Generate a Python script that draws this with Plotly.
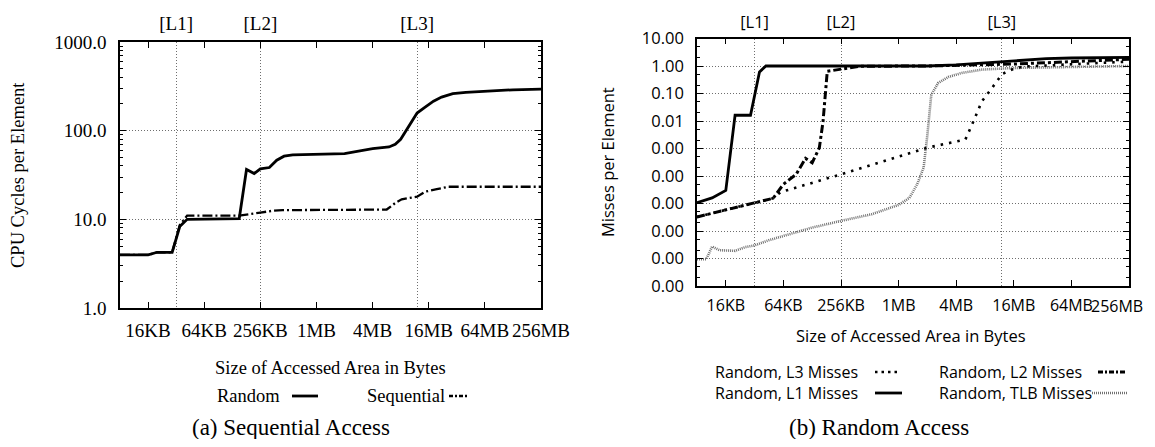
import math
import plotly.graph_objects as go

# the page places the figure 8px from the top-left corner of the window;
# keep the figure small enough that the page never overflows the window
OFF = 8
W, H = 1155 - 2 * OFF, 447 - 2 * OFF

# ---------------- data (sizes in KB) ----------------
size_ticks_kb = [16, 64, 256, 1024, 4096, 16384, 65536, 262144]
size_tick_labels = ["16KB", "64KB", "256KB", "1MB", "4MB", "16MB", "64MB", "256MB"]
cache_kb = [32, 256, 12288]
cache_labels = ["[L1]", "[L2]", "[L3]"]

cyc_ticks = [1, 10, 100, 1000]
cyc_tick_labels = ["1.0", "10.0", "100.0", "1000.0"]
miss_ticks = [1e-8, 1e-7, 1e-6, 1e-5, 1e-4, 1e-3, 1e-2, 1e-1, 1, 10]

rand_x = [8, 16, 20, 29, 35, 42, 152, 182, 220, 256, 320, 384, 460, 570, 2048, 4096,
          6144, 7168, 8192, 10240, 12288, 15000, 18432, 22528, 29696, 40960, 65536,
          131072, 262144]
rand_y = [3.97, 3.97, 4.25, 4.25, 8.3, 10.0, 10.2, 36.5, 32.9, 37.1, 38.4, 46.4, 51.5,
          53.3, 55.2, 62.8, 65.5, 70.2, 80, 115, 158, 184, 215, 239, 261, 270, 279,
          289, 294]

seq_x = [8, 16, 20, 29, 35, 42, 152, 195, 256, 348, 444, 2048, 5800, 7300, 8400, 12288,
         15000, 20000, 26600, 262144]
seq_y = [3.97, 3.97, 4.25, 4.25, 8.6, 11.0, 11.0, 11.5, 11.9, 12.5, 12.7, 12.8, 12.9,
         15.5, 16.8, 18.0, 20.5, 21.9, 23.3, 23.3]

l1_x = [8, 11.5, 16, 20, 29, 36, 42, 2048, 4096, 7800, 12900, 35800, 65536, 262144]
l1_y = [1.07e-5, 1.6e-5, 3.0e-5, 0.0162, 0.0162, 0.606, 1.0, 1.0, 1.09, 1.28, 1.48,
        1.85, 1.95, 2.06]

l2_x = [8, 16, 32, 50, 64, 87, 109, 128, 152, 166, 184, 256, 400, 2048, 16384, 262144]
l2_y = [3.24e-6, 5.8e-6, 1.02e-5, 1.55e-5, 5.0e-5, 1.15e-4, 4.36e-4, 3.02e-4, 1.07e-3,
        9.3e-3, 0.64, 0.757, 0.98, 1.0, 1.18, 1.75]

l3_x = [8, 16, 32, 50, 60, 256, 2048, 5100, 6000, 7600, 9700, 12400, 17000, 23000, 262144]
l3_y = [3.24e-6, 5.8e-6, 1.02e-5, 1.55e-5, 2.6e-5, 1.15e-4, 1.07e-3, 2.1e-3, 7.4e-3,
        0.052, 0.16, 0.51, 0.85, 0.97, 1.45]

tlb_x = [8, 10, 11.5, 13.8, 20, 25.6, 32, 45, 64, 128, 256, 540, 1024, 1330, 1600, 1870,
         2048, 2250, 2650, 3400, 4700, 7600, 16384, 262144]
tlb_y = [9.4e-8, 9.4e-8, 2.7e-7, 2.0e-7, 1.9e-7, 2.6e-7, 3.0e-7, 4.6e-7, 6.6e-7, 1.33e-6,
         2.33e-6, 4.1e-6, 8.9e-6, 1.6e-5, 5.0e-5, 2.0e-4, 3.2e-3, 0.091, 0.24, 0.40,
         0.56, 0.74, 0.85, 1.0]

# ---------------- helpers (window pixels -> paper fractions) ----------------
def px(x):
    return (x - OFF) / W

def py(y):
    return 1 - (y - OFF) / H

def kb(v):
    return [a * 1024 for a in v]

XR = [math.log10(8 * 1024), math.log10(262144 * 1024)]

SERIF = "Liberation Serif"
SANS = "Open Sans"
GRIDC = "#6e6e6e"

# right panel: last label is drawn right-aligned to the page edge (as in the reference)
right_tick_text = size_tick_labels[:-1] + [""]

fig = go.Figure()

# left panel traces
fig.add_trace(go.Scatter(x=kb(seq_x), y=seq_y, mode="lines", xaxis="x", yaxis="y",
                         line=dict(color="black", width=2.3, dash="10px,3px,2px,3px"),
                         showlegend=False))
fig.add_trace(go.Scatter(x=kb(rand_x), y=rand_y, mode="lines", xaxis="x", yaxis="y",
                         line=dict(color="black", width=2.8), showlegend=False))
# carrier traces so the cache-level axes (top) are drawn
fig.add_trace(go.Scatter(x=kb(cache_kb), y=[None] * len(cache_kb), mode="lines",
                         xaxis="x2", yaxis="y", showlegend=False, hoverinfo="skip"))
fig.add_trace(go.Scatter(x=kb(cache_kb), y=[None] * len(cache_kb), mode="lines",
                         xaxis="x4", yaxis="y3", showlegend=False, hoverinfo="skip"))

# right panel traces
fig.add_trace(go.Scatter(x=kb(tlb_x), y=tlb_y, mode="lines", xaxis="x3", yaxis="y3",
                         line=dict(color="#707070", width=2.6, dash="1px,1px"),
                         showlegend=False))
fig.add_trace(go.Scatter(x=kb(l3_x), y=l3_y, mode="lines", xaxis="x3", yaxis="y3",
                         line=dict(color="black", width=2.6, dash="2.5px,6px"),
                         showlegend=False))
fig.add_trace(go.Scatter(x=kb(l2_x), y=l2_y, mode="lines", xaxis="x3", yaxis="y3",
                         line=dict(color="black", width=3, dash="8px,3px,3px,3px"),
                         showlegend=False))
fig.add_trace(go.Scatter(x=kb(l1_x), y=l1_y, mode="lines", xaxis="x3", yaxis="y3",
                         line=dict(color="black", width=2.8), showlegend=False))

def minor_vals(lo, hi, mults):
    out = []
    for e in range(lo, hi):
        for m in mults:
            out.append(m * 10 ** e)
    return out

common_x = dict(type="log", range=XR, ticks="inside", ticklen=6, tickwidth=1,
                tickcolor="black", showline=True, linecolor="black", linewidth=1.5,
                mirror="ticks", showgrid=False, zeroline=False, tickangle=0,
                automargin=False, ticklabeloverflow="allow")

L1 = [120, 541, 42, 308]     # left, right, top, bottom (window px)
R1 = [697, 1129, 38.5, 286]

fig.update_layout(
    width=W, height=H,
    margin=dict(l=0, r=0, t=0, b=0, pad=0),
    paper_bgcolor="white", plot_bgcolor="white",
    xaxis=dict(**common_x, domain=[px(L1[0]), px(L1[1])], anchor="y",
               tickvals=kb(size_ticks_kb), ticktext=size_tick_labels,
               tickfont=dict(family=SERIF, size=19, color="black"),
               ticklabelstandoff=4),
    xaxis2=dict(type="log", range=XR, overlaying="x", side="top", anchor="y",
                tickvals=kb(cache_kb), ticktext=cache_labels, ticks="",
                showline=False, showgrid=True, gridcolor=GRIDC, gridwidth=1,
                griddash="1px,2px", zeroline=False, tickangle=0, automargin=False,
                tickfont=dict(family=SERIF, size=19, color="black"),
                ticklabelstandoff=7),
    yaxis=dict(type="log", range=[0, 3], domain=[py(L1[3]), py(L1[2])], anchor="x",
               tickvals=cyc_ticks, ticktext=cyc_tick_labels, automargin=False,
               ticks="inside", ticklen=6, tickcolor="black", showline=True,
               linecolor="black", linewidth=1.5, mirror="ticks",
               showgrid=True, gridcolor=GRIDC, gridwidth=1, griddash="1px,2px",
               zeroline=False,
               minor=dict(tickvals=minor_vals(0, 3, [2, 3, 4, 5, 6, 7, 8, 9]),
                          ticks="inside", ticklen=3, tickcolor="black", showgrid=False),
               tickfont=dict(family=SERIF, size=19, color="black"),
               ticklabelstandoff=8),
    xaxis3=dict(**common_x, domain=[px(R1[0]), px(R1[1])], anchor="y3",
                tickvals=kb(size_ticks_kb), ticktext=right_tick_text,
                tickfont=dict(family=SANS, size=16, color="black"),
                ticklabelstandoff=4),
    xaxis4=dict(type="log", range=XR, overlaying="x3", side="top", anchor="y3",
                tickvals=kb(cache_kb), ticktext=cache_labels, ticks="",
                showline=False, showgrid=True, gridcolor=GRIDC, gridwidth=1,
                griddash="1px,2px", zeroline=False, tickangle=0, automargin=False,
                tickfont=dict(family=SANS, size=16.5, color="black"),
                ticklabelstandoff=6),
    yaxis3=dict(type="log", range=[-8, 1], domain=[py(R1[3]), py(R1[2])], anchor="x3",
                tickvals=miss_ticks, ticktext=[f"{v:.2f}" for v in miss_ticks],
                automargin=False,
                ticks="inside", ticklen=6, tickcolor="black", showline=True,
                linecolor="black", linewidth=1.5, mirror="ticks",
                showgrid=True, gridcolor=GRIDC, gridwidth=1, griddash="1px,2px",
                zeroline=False,
                minor=dict(tickvals=minor_vals(-8, 1, [2, 5]),
                           ticks="inside", ticklen=3, tickcolor="black", showgrid=False),
                tickfont=dict(family=SANS, size=16.5, color="black"),
                ticklabelstandoff=8),
)

ann = []
def text(x, y, s, fam, size, angle=0, xanchor="center"):
    ann.append(dict(x=px(x), y=py(y), xref="paper", yref="paper", text=s,
                    showarrow=False, textangle=angle, xanchor=xanchor, yanchor="middle",
                    font=dict(family=fam, size=size, color="black")))

# last tick label of the right panel
text(1145, 306, size_tick_labels[-1], SANS, 16, xanchor="right")

# axis titles
text(18, 175, "CPU Cycles per Element", SERIF, 18.5, -90)
text(330, 368, "Size of Accessed Area in Bytes", SERIF, 18.5)
text(607, 162, "Misses per Element", SANS, 16.5, -90)
text(911, 335, "Size of Accessed Area in Bytes", SANS, 16.5)

# legends (text)
text(215, 396, "Random", SERIF, 18.5, xanchor="left")
text(365, 396, "Sequential", SERIF, 18.5, xanchor="left")
text(713, 372, "Random, L3 Misses", SANS, 16, xanchor="left")
text(937, 372, "Random, L2 Misses", SANS, 16, xanchor="left")
text(713, 393, "Random, L1 Misses", SANS, 16, xanchor="left")
text(937, 393, "Random, TLB Misses", SANS, 16, xanchor="left")

# captions
text(291, 427, "(a) Sequential Access", SERIF, 23)
text(879, 427, "(b) Random Access", SERIF, 23)

shapes = []
def sample(x0, x1, y, width, dash, color="black"):
    shapes.append(dict(type="line", xref="paper", yref="paper", x0=px(x0), x1=px(x1),
                       y0=py(y), y1=py(y),
                       line=dict(color=color, width=width, dash=dash)))

sample(292, 318, 396, 2.8, "solid")
sample(449, 468, 396, 2.3, "4px,2px,2px,2px")
sample(875, 901, 372, 2.6, "2.5px,4px")
sample(1098, 1127, 372, 3, "5px,2px,2px,2px")
sample(875, 902, 393, 2.8, "solid")
sample(1092, 1127, 393, 2.6, "1px,1px", "#707070")

fig.update_layout(annotations=ann, shapes=shapes)

fig.write_html("out.html")
